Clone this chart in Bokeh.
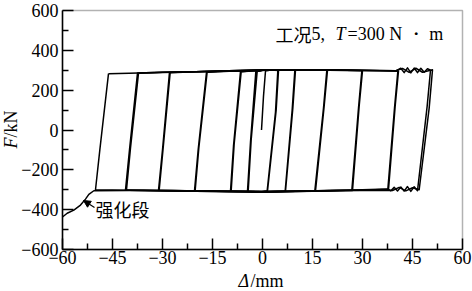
from bokeh.plotting import figure
from bokeh.models import FixedTicker, Label, Arrow, NormalHead, Range1d, BoxAnnotation
from bokeh.embed import file_html
from bokeh.resources import INLINE
import math

# ---------------- data ----------------
x_ticks = [-60, -45, -30, -15, 0, 15, 30, 45, 60]
x_minor = [-52.5, -37.5, -22.5, -7.5, 7.5, 22.5, 37.5, 52.5]
y_ticks = [-600, -400, -200, 0, 200, 400, 600]
y_minor = [-500, -300, -100, 100, 300, 500]

# initial loading
init_d = [-0.3, 0.3, 0.9, 2.5, 4.8]
init_f = [0, 170, 296, 301, 299]

# +/-5 mm cycles
c5_d = [4.8, 4.1, 1.5, -1.0, -3.0, -4.5, -3.6, -2.0, 0.0, 2.5, 4.6, 3.9, 1.4, -1.0, -4.3, -3.4, -1.6]
c5_f = [299, 100, -306, -309, -311, -307, -60, 293, 299, 302, 300, 90, -305, -310, -308, -50, 294]

# +/-10 mm cycles
c10_d = [-1.6, 0.0, 5.0, 9.9, 9.1, 6.9, 3.0, 0.0, -5.0, -9.6, -8.7, -6.6, -3.0, 0.0, 5.0, 9.7,
         8.9, 6.8, 0.0, -5.0, -9.4, -8.5, -6.4]
c10_f = [294, 300, 303, 301, 110, -307, -310, -311, -309, -307, -80, 293, 297, 300, 302, 300,
         100, -306, -310, -308, -306, -70, 292]

# +/-20 mm cycles
c20_d = [-6.4, 0.0, 10.0, 19.5, 18.5, 15.9, 10.0, 0.0, -10.0, -20.4, -19.3, -16.8, -10.0, 0.0,
         10.0, 19.3, 18.3, 15.7, 0.0, -20.2, -19.1, -16.6]
c20_f = [292, 300, 302, 300, 120, -306, -308, -311, -308, -305, -100, 290, 295, 300,
         303, 301, 110, -305, -310, -304, -90, 291]

# +/-30 mm cycles
c30_d = [-16.6, -10, 0, 10, 20, 30.0, 29.0, 27.0, 20, 10, 0, -10, -20, -31.2, -30.0, -27.9,
         -20, -10, 0, 10, 20, 29.8, 28.8, 26.8, 10, -10, -31.0, -29.8, -27.7]
c30_f = [291, 296, 300, 302, 301, 298, 120, -304, -306, -309, -310, -308, -306, -303, -100, 289,
         292, 297, 301, 303, 300, 297, 110, -303, -308, -309, -302, -90, 288]

# +/-40 mm cycles
c40_d = [-27.7, -20, -10, 0, 10, 20, 30, 40.8, 39.8, 37.8, 30, 20, 10, 0, -10, -20, -30, -41.1,
         -39.9, -37.5, -30, -20, -10, 0, 10, 20, 30, 40.6, 39.6, 37.6, 30, 20, 0, -20, -30, -40.8,
         -39.6, -37.2]
c40_f = [288, 292, 296, 300, 302, 301, 299, 296, 120, -300, -303, -305, -308, -310, -308, -306, -304, -301,
         -100, 286, 290, 293, 297, 301, 303, 302, 300, 295, 110, -298, -302, -304, -310, -306, -303, -300,
         -90, 285]

# +/-50 mm, first cycle
c50a_d = [-37.2, -30, -20, -10, 0, 10, 20, 30, 40, 41.5, 42.5, 43.5, 44.5, 45.5, 46.5, 47.5, 48.5,
          49.5, 50.4, 49.4, 46.5, 45.5, 44.5, 43.5, 42.5, 41.5, 40.5, 39.5, 38.5, 37.5, 30, 20, 10, 0,
          -10, -20, -30, -40, -50.1, -48.8, -46.2]
c50a_f = [285, 289, 292, 296, 300, 302, 301, 299, 297, 310, 288, 312, 287, 311, 288, 310, 290,
          308, 300, 120, -305, -285, -308, -284, -307, -286, -306, -288, -305, -296, -300, -304, -308, -310,
          -309, -307, -305, -302, -300, -100, 283]

# +/-50 mm, second cycle and final hardening push (强化段)
c50b_d = [-46.2, -40, -30, -20, -10, 0, 10, 20, 30, 40, 42, 44, 46, 48, 51.0, 50.0, 47.0, 45, 43, 41,
          39, 30, 20, 10, 0, -10, -20, -30, -40, -50.6, -52.1, -53.1, -54.6, -56.6, -58.6, -60.0]
c50b_f = [283, 285, 290, 293, 297, 301, 303, 302, 300, 298, 309, 289, 310, 290, 302, 110, -300, -290,
          -306, -288, -304, -302, -305, -309, -311, -310, -308, -306, -304, -305, -323, -347, -377, -402,
          -418, -437]

series = [(init_d, init_f), (c5_d, c5_f), (c10_d, c10_f), (c20_d, c20_f), (c30_d, c30_f),
          (c40_d, c40_f), (c50a_d, c50a_f), (c50b_d, c50b_f)]
for d, f in series:
    assert len(d) == len(f)

SERIF = "Liberation Serif"
CJK = "Noto Sans CJK SC"

# ---------------- layout: plot box inside a full-canvas frame ----------------
W, H = 472, 291
BOX_L, BOX_R, BOX_T, BOX_B = 62, 462, 10, 249          # pixel edges of the axes box
XMIN, XMAX, YMIN, YMAX = -60, 60, -600, 600
sx = (XMAX - XMIN) / (BOX_R - BOX_L)                     # mm per pixel
sy = (YMAX - YMIN) / (BOX_B - BOX_T)                     # kN per pixel
x_lo, x_hi = XMIN - BOX_L * sx, XMAX + (W - BOX_R) * sx
y_hi, y_lo = YMAX + BOX_T * sy, YMIN - (H - BOX_B) * sy

def px_x(px):
    return x_lo + px * sx

def px_y(py):
    return y_hi - py * sy

p = figure(width=W, height=H, x_range=Range1d(x_lo, x_hi), y_range=Range1d(y_lo, y_hi),
           output_backend="svg", toolbar_location=None,
           min_border_left=0, min_border_right=0, min_border_top=0, min_border_bottom=0)
p.grid.visible = False
p.background_fill_color = "white"
p.border_fill_color = "white"
p.outline_line_color = None

p.xaxis.fixed_location = YMIN
p.yaxis.fixed_location = XMIN
p.xaxis.bounds = (XMIN, XMAX)
p.yaxis.bounds = (YMIN, YMAX)
p.xaxis.ticker = FixedTicker(ticks=x_ticks, minor_ticks=x_minor)
p.yaxis.ticker = FixedTicker(ticks=y_ticks, minor_ticks=y_minor)
p.xaxis.major_label_overrides = {t: (str(t).replace("-", "\u2212")) for t in x_ticks}
p.yaxis.major_label_overrides = {t: (str(t).replace("-", "\u2212")) for t in y_ticks}

for ax in (p.xaxis[0], p.yaxis[0]):
    ax.axis_line_width = 1.5
    ax.axis_line_color = "black"
    ax.major_tick_in = 11
    ax.major_tick_out = 0
    ax.minor_tick_in = 6
    ax.minor_tick_out = 0
    ax.major_tick_line_width = 1.5
    ax.minor_tick_line_width = 1.5
    ax.major_tick_line_color = "black"
    ax.minor_tick_line_color = "black"
    ax.major_label_text_font = SERIF
    ax.major_label_text_font_size = "18px"
    ax.major_label_text_color = "black"
p.xaxis.major_label_standoff = 1
p.yaxis.major_label_standoff = 4

# top and right edges of the axes box
p.add_layout(BoxAnnotation(left=XMIN, right=XMAX, bottom=YMIN, top=YMAX, fill_color=None,
                           line_color="black", line_width=1.5))

for d, f in series:
    p.line(d, f, line_color="black", line_width=1.5, line_join="round")

# ---------------- texts ----------------
SHIFT = 8   # Bokeh draws "alphabetic" text about this many pixels lower than the anchor

def make_label(text, x, y, font, style="normal", angle=0, size="18px"):
    return Label(x=x, y=y, text=text, text_font=font, text_font_style=style,
                 text_font_size=size, text_color="black", angle=angle,
                 text_baseline="alphabetic", text_align="left")

# annotation top right
base = 41 - SHIFT
p.add_layout(make_label("工况", px_x(275), px_y(base), CJK))
p.add_layout(make_label("5,", px_x(311), px_y(base), SERIF))
p.add_layout(make_label("T", px_x(335), px_y(base), SERIF, style="italic"))
p.add_layout(make_label("=300 N \u30fb m", px_x(347), px_y(base), SERIF))

# strengthening segment label with arrow
p.add_layout(make_label("强化段", px_x(95), px_y(216 - SHIFT), CJK))
p.add_layout(Arrow(end=NormalHead(size=7, fill_color="black", line_color="black"),
                   x_start=px_x(94), y_start=px_y(207), x_end=px_x(83), y_end=px_y(200),
                   line_color="black", line_width=1.2))

# axis titles
p.add_layout(make_label("F", px_x(18 - SHIFT), px_y(148), SERIF, style="italic", angle=math.pi / 2))
p.add_layout(make_label("/kN", px_x(18 - SHIFT), px_y(137), SERIF, angle=math.pi / 2))
p.add_layout(make_label("\u0394", px_x(238), px_y(288 - SHIFT), SERIF, style="italic"))
p.add_layout(make_label("/mm", px_x(250), px_y(288 - SHIFT), SERIF))

open("out.html", "w").write(file_html(p, INLINE))
